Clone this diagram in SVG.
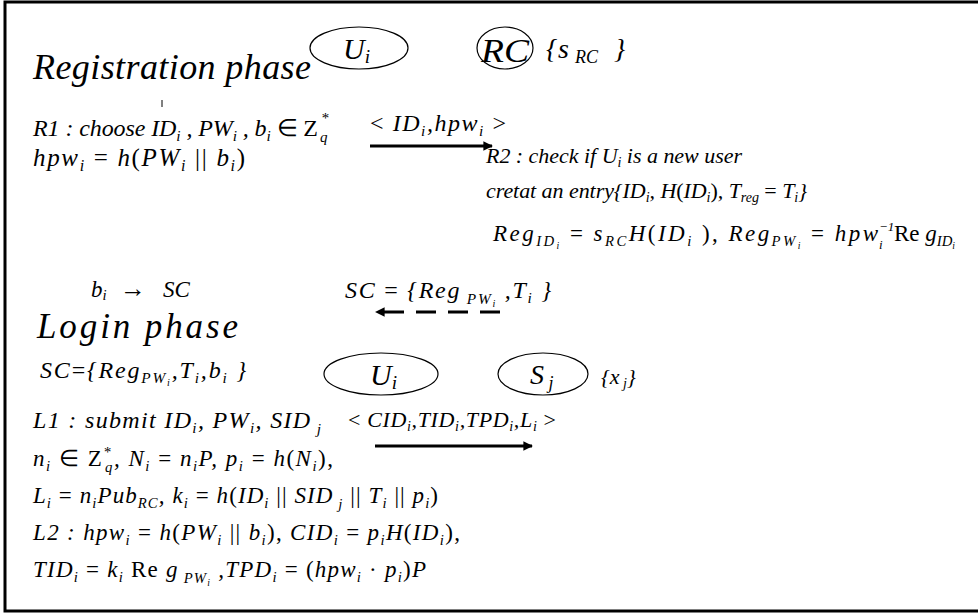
<svg xmlns="http://www.w3.org/2000/svg" width="978" height="614" viewBox="0 0 978 614">
<style>
.t{font-family:"Liberation Serif","Times New Roman",serif;font-style:italic;font-size:22px;fill:#000}
.s{font-size:0.64em}
.ss{font-size:0.42em}
.r{font-style:normal}
.node{fill:none;stroke:#000;stroke-width:1.2}
.msg{stroke:#000;stroke-width:3;fill:none}
</style>
<defs>
<marker id="ah" viewBox="0 0 10 10" refX="9" refY="5" markerWidth="5" markerHeight="3.2" orient="auto" markerUnits="strokeWidth">
<path d="M0,0 L10,5 L0,10 z" fill="#000"/>
</marker>
</defs>
<rect x="5" y="2" width="985" height="609" fill="#fff" stroke="#000" stroke-width="3"/>

<text class="t" x="33" y="79" style="font-size:36px" textLength="278" lengthAdjust="spacing">Registration phase</text>

<g id="reg-user">
<ellipse class="node" cx="359" cy="48" rx="49" ry="21"/>
<text class="t" x="343" y="59" style="font-size:30px">U<tspan class="s" dy="4">i</tspan></text>
</g>
<g id="reg-rc">
<ellipse class="node" cx="505" cy="48" rx="28" ry="21"/>
<text class="t" x="481" y="62" style="font-size:34px" textLength="48" lengthAdjust="spacingAndGlyphs">RC</text>
<text class="t" x="546" y="58" style="font-size:28px">{<tspan x="558">s</tspan><tspan x="575" dy="5" style="font-size:18px">RC</tspan><tspan x="614" dy="-5">}</tspan></text>
</g>

<line x1="162" y1="100" x2="162" y2="107" stroke="#000" stroke-width="1"/>
<text class="t" x="33" y="136" style="font-size:24px" textLength="285" lengthAdjust="spacing">R1 : choose ID<tspan class="s" dy="5">i</tspan><tspan dy="-5"> , PW</tspan><tspan class="s" dy="5">i</tspan><tspan dy="-5"> , b</tspan><tspan class="s" dy="5">i</tspan><tspan dy="-5" class="r"> ∈ Z</tspan></text>
<text class="t" x="321" y="123" style="font-size:15px">*</text>
<text class="t" x="320" y="142" style="font-size:15px">q</text>
<text class="t" x="33" y="166" style="font-size:25px" textLength="212" lengthAdjust="spacing">hpw<tspan class="s" dy="5">i</tspan><tspan dy="-5" class="r"> = </tspan>h<tspan class="r">(</tspan>PW<tspan class="s" dy="5">i</tspan><tspan dy="-5" class="r"> || </tspan>b<tspan class="s" dy="5">i</tspan><tspan dy="-5" class="r">)</tspan></text>

<text class="t" x="370" y="131" style="font-size:24px" textLength="136" lengthAdjust="spacing"><tspan class="r">&lt; </tspan>ID<tspan class="s" dy="5">i</tspan><tspan dy="-5">,hpw</tspan><tspan class="s" dy="5">i</tspan><tspan dy="-5" class="r"> &gt;</tspan></text>

<text class="t" x="486" y="163" textLength="256" lengthAdjust="spacing">R2 : check if  U<tspan class="s" dy="4">i</tspan><tspan dy="-4"> is a new user</tspan></text>
<text class="t" x="486" y="198" textLength="321" lengthAdjust="spacing">cretat an entry{ID<tspan class="s" dy="4">i</tspan><tspan dy="-4">, H</tspan><tspan class="r">(</tspan>ID<tspan class="s" dy="4">i</tspan><tspan dy="-4" class="r">)</tspan>, T<tspan class="s" dy="4">reg</tspan><tspan dy="-4" class="r"> = </tspan>T<tspan class="s" dy="4">i</tspan><tspan dy="-4">}</tspan></text>
<text class="t" x="493" y="241" style="font-size:23px" textLength="385" lengthAdjust="spacing">Reg<tspan class="s" dy="5">ID</tspan><tspan class="ss" dy="3">i</tspan><tspan dy="-8" class="r"> = </tspan>s<tspan class="s" dy="5">RC</tspan><tspan dy="-5">H</tspan><tspan class="r">(</tspan>ID<tspan class="s" dy="5">i</tspan><tspan dy="-5" class="r"> ), </tspan>Reg<tspan class="s" dy="5">PW</tspan><tspan class="ss" dy="3">i</tspan><tspan dy="-8" class="r"> = </tspan>hpw</text>
<text class="t" x="879" y="231" style="font-size:13px">−1</text>
<text class="t" x="879" y="249" style="font-size:13px">i</text>
<text class="t" x="894" y="241" style="font-size:23px"><tspan class="r">Re</tspan> g<tspan class="s" dy="5">ID</tspan><tspan class="ss" dy="3">i</tspan></text>

<text class="t" x="91" y="297" style="font-size:23px">b<tspan class="s" dy="3">i</tspan><tspan x="120" dy="-3" class="r" style="font-size:26px">→</tspan><tspan x="163">SC</tspan></text>
<text class="t" x="345" y="298" style="font-size:24px" textLength="206" lengthAdjust="spacing">SC<tspan class="r"> = </tspan>{Reg<tspan class="s" dy="6"> PW</tspan><tspan class="ss" dy="3">i</tspan><tspan dy="-9"> ,T</tspan><tspan class="s" dy="5">i</tspan><tspan dy="-5"> }</tspan></text>

<text class="t" x="37" y="338" style="font-size:35px" textLength="201" lengthAdjust="spacing">Login  phase</text>
<text class="t" x="40" y="378" style="font-size:24px" textLength="206" lengthAdjust="spacing">SC<tspan class="r">=</tspan>{Reg<tspan class="s" dy="5">PW</tspan><tspan class="ss" dy="3">i</tspan><tspan dy="-8">,T</tspan><tspan class="s" dy="5">i</tspan><tspan dy="-5">,b</tspan><tspan class="s" dy="5">i</tspan><tspan dy="-5"> }</tspan></text>

<g id="login-user">
<ellipse class="node" cx="381" cy="374" rx="57" ry="21"/>
<text class="t" x="370" y="385" style="font-size:30px">U<tspan class="s" dy="4">i</tspan></text>
</g>
<g id="login-server">
<ellipse class="node" cx="543" cy="374" rx="45" ry="21"/>
<text class="t" x="530" y="384" style="font-size:28px">S<tspan class="s" dy="5"> j</tspan></text>
<text class="t" x="601" y="384">{x<tspan class="s" dy="4"> j</tspan><tspan dy="-4">}</tspan></text>
</g>

<text class="t" x="33" y="428" style="font-size:24px" textLength="288" lengthAdjust="spacing">L1 : submit ID<tspan class="s" dy="5">i</tspan><tspan dy="-5">, PW</tspan><tspan class="s" dy="5">i</tspan><tspan dy="-5">, SID</tspan><tspan class="s" dy="6"> j</tspan></text>
<text class="t" x="348" y="427" textLength="208" lengthAdjust="spacing"><tspan class="r">&lt; </tspan>CID<tspan class="s" dy="4">i</tspan><tspan dy="-4">,TID</tspan><tspan class="s" dy="4">i</tspan><tspan dy="-4">,TPD</tspan><tspan class="s" dy="4">i</tspan><tspan dy="-4">,L</tspan><tspan class="s" dy="4">i</tspan><tspan dy="-4" class="r"> &gt;</tspan></text>

<text class="t" x="33" y="466" style="font-size:23px" textLength="300" lengthAdjust="spacing">n<tspan class="s" dy="5">i</tspan><tspan dy="-5" class="r"> ∈ Z</tspan><tspan class="s" dy="-9">*</tspan><tspan class="s" dy="15" dx="-7">q</tspan><tspan dy="-6">, N</tspan><tspan class="s" dy="5">i</tspan><tspan dy="-5" class="r"> = </tspan>n<tspan class="s" dy="5">i</tspan><tspan dy="-5">P, p</tspan><tspan class="s" dy="5">i</tspan><tspan dy="-5" class="r"> = </tspan>h<tspan class="r">(</tspan>N<tspan class="s" dy="5">i</tspan><tspan dy="-5" class="r">),</tspan></text>
<text class="t" x="33" y="503" style="font-size:23px" textLength="405" lengthAdjust="spacing">L<tspan class="s" dy="5">i</tspan><tspan dy="-5" class="r"> = </tspan>n<tspan class="s" dy="5">i</tspan><tspan dy="-5">Pub</tspan><tspan class="s" dy="5">RC</tspan><tspan dy="-5">, k</tspan><tspan class="s" dy="5">i</tspan><tspan dy="-5" class="r"> = </tspan>h<tspan class="r">(</tspan>ID<tspan class="s" dy="5">i</tspan><tspan dy="-5" class="r"> || </tspan>SID<tspan class="s" dy="6"> j</tspan><tspan dy="-6" class="r"> || </tspan>T<tspan class="s" dy="5">i</tspan><tspan dy="-5" class="r"> || </tspan>p<tspan class="s" dy="5">i</tspan><tspan dy="-5" class="r">)</tspan></text>
<text class="t" x="33" y="540" style="font-size:23px" textLength="427" lengthAdjust="spacing">L2 : hpw<tspan class="s" dy="5">i</tspan><tspan dy="-5" class="r"> = </tspan>h<tspan class="r">(</tspan>PW<tspan class="s" dy="5">i</tspan><tspan dy="-5" class="r"> || </tspan>b<tspan class="s" dy="5">i</tspan><tspan dy="-5" class="r">), </tspan>CID<tspan class="s" dy="5">i</tspan><tspan dy="-5" class="r"> = </tspan>p<tspan class="s" dy="5">i</tspan><tspan dy="-5">H</tspan><tspan class="r">(</tspan>ID<tspan class="s" dy="5">i</tspan><tspan dy="-5" class="r">),</tspan></text>
<text class="t" x="33" y="577" style="font-size:23px" textLength="393" lengthAdjust="spacing">TID<tspan class="s" dy="5">i</tspan><tspan dy="-5" class="r"> = </tspan>k<tspan class="s" dy="5">i</tspan><tspan dy="-5" class="r"> Re </tspan>g<tspan class="s" dy="6"> PW</tspan><tspan class="ss" dy="3">i</tspan><tspan dy="-9"> ,TPD</tspan><tspan class="s" dy="5">i</tspan><tspan dy="-5" class="r"> = (</tspan>hpw<tspan class="s" dy="5">i</tspan><tspan dy="-5" class="r"> · </tspan>p<tspan class="s" dy="5">i</tspan><tspan dy="-5" class="r">)</tspan>P</text>

<g id="connectors">
<line class="msg" x1="370" y1="146" x2="492" y2="146" marker-end="url(#ah)"/>
<line class="msg" x1="500" y1="312" x2="376" y2="312" stroke-dasharray="20,12" marker-end="url(#ah)"/>
<line class="msg" x1="375" y1="446" x2="532" y2="446" marker-end="url(#ah)"/>
</g>
</svg>
